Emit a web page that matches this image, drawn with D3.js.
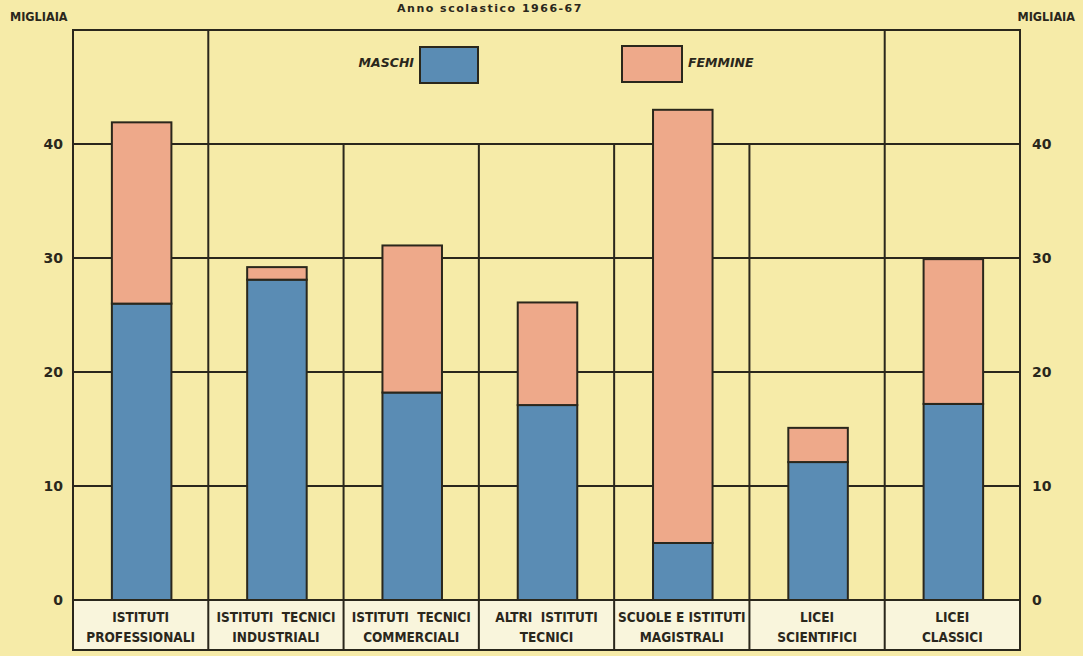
<!DOCTYPE html>
<html>
<head>
<meta charset="utf-8">
<script src="https://cdn.jsdelivr.net/npm/d3@7"></script>
<style>
  html, body { margin: 0; padding: 0; background: #f6eba8; }
  svg { display: block; }
</style>
</head>
<body>
<svg id="chart" width="1083" height="656"></svg>
<script>
// ---- data ----
const categories = [
  "ISTITUTI PROFESSIONALI",
  "ISTITUTI TECNICI INDUSTRIALI",
  "ISTITUTI TECNICI COMMERCIALI",
  "ALTRI ISTITUTI TECNICI",
  "SCUOLE E ISTITUTI MAGISTRALI",
  "LICEI SCIENTIFICI",
  "LICEI CLASSICI"
];
const labelLines = [
  ["ISTITUTI", "PROFESSIONALI"],
  ["ISTITUTI  TECNICI", "INDUSTRIALI"],
  ["ISTITUTI  TECNICI", "COMMERCIALI"],
  ["ALTRI  ISTITUTI", "TECNICI"],
  ["SCUOLE E ISTITUTI", "MAGISTRALI"],
  ["LICEI", "SCIENTIFICI"],
  ["LICEI", "CLASSICI"]
];
const maschi  = [26.0, 28.1, 18.2, 17.1, 5.0, 12.1, 17.2];
const femmine = [15.9, 1.1, 12.9, 9.0, 38.0, 3.0, 12.7];
const yTicks = [0, 10, 20, 30, 40];
const seriesNames = ["MASCHI", "FEMMINE"];
const titleText = "Anno  scolastico  1966-67";
const unitLabel = "MIGLIAIA";

(function () {
// ---- style ----
const C = {
  bg: "#f6eba8",
  ink: "#2a271c",
  blue: "#5a8cb4",
  pink: "#eea98a",
  box: "#f9f5dc"
};

const svg = d3.select("#chart");
const W = 1083, H = 656;
const pL = 73, pR = 1020, pT = 30, zeroY = 600, pB = 650;

svg.append("rect").attr("width", W).attr("height", H).attr("fill", C.bg);

const x = d3.scaleBand().domain(categories).range([pL, pR]).paddingInner(0).paddingOuter(0);
const y = d3.scaleLinear().domain([0, 50]).range([zeroY, pT]);

const data = categories.map((c, i) => ({ cat: c, maschi: maschi[i], femmine: femmine[i] }));
const stack = d3.stack().keys(["maschi", "femmine"])(data);
const colors = { maschi: C.blue, femmine: C.pink };

// title
svg.append("text")
  .attr("x", 490).attr("y", 12)
  .attr("text-anchor", "middle")
  .attr("font-family", "DejaVu Sans, sans-serif")
  .attr("font-weight", "bold")
  .attr("font-size", 11)
  .attr("letter-spacing", 1.5)
  .attr("fill", C.ink)
  .text(titleText);

// unit labels
[[10, "start"], [1075, "end"]].forEach(([tx, anchor]) => {
  svg.append("text")
    .attr("x", tx).attr("y", 21)
    .attr("text-anchor", anchor)
    .attr("font-family", "Liberation Sans Narrow, DejaVu Sans Condensed, sans-serif")
    .attr("font-weight", "bold")
    .attr("font-size", 12.5)
    .attr("fill", C.ink)
    .text(unitLabel);
});

// label box
svg.append("rect")
  .attr("x", pL).attr("y", zeroY)
  .attr("width", pR - pL).attr("height", pB - zeroY)
  .attr("fill", C.box);

const grid = svg.append("g").attr("stroke", C.ink).attr("stroke-width", 2).attr("fill", "none");

// horizontal grid lines
[10, 20, 30, 40].forEach(v => {
  grid.append("line").attr("x1", pL).attr("x2", pR).attr("y1", y(v)).attr("y2", y(v));
});
// frame
grid.append("rect").attr("x", pL).attr("y", pT).attr("width", pR - pL).attr("height", pB - pT);
grid.append("line").attr("x1", pL).attr("x2", pR).attr("y1", zeroY).attr("y2", zeroY);

// column separators
categories.slice(1).forEach((c, i) => {
  const xx = x(c);
  const full = (i === 0 || i === categories.length - 2);
  grid.append("line").attr("x1", xx).attr("x2", xx)
    .attr("y1", full ? pT : y(40)).attr("y2", pB);
});

// bars
const bw = x.bandwidth() * 0.44;
const bars = svg.append("g");
stack.forEach(layer => {
  bars.selectAll(null)
    .data(layer)
    .enter().append("rect")
    .attr("x", d => x(d.data.cat) + (x.bandwidth() - bw) / 2 + 1)
    .attr("y", d => y(d[1]))
    .attr("width", bw)
    .attr("height", d => y(d[0]) - y(d[1]))
    .attr("fill", colors[layer.key])
    .attr("stroke", C.ink)
    .attr("stroke-width", 2);
});

// y axes (left and right)
const axisFont = g => {
  g.select(".domain").remove();
  g.selectAll("text")
    .attr("font-family", "DejaVu Sans, sans-serif")
    .attr("font-weight", "bold")
    .attr("font-size", 14)
    .attr("fill", C.ink);
};
svg.append("g").attr("transform", `translate(${pL - 10},0)`)
  .call(d3.axisLeft(y).tickValues(yTicks).tickSize(0).tickPadding(0).tickFormat(d3.format("d")))
  .call(axisFont);
svg.append("g").attr("transform", `translate(${pR + 12},0)`)
  .call(d3.axisRight(y).tickValues(yTicks).tickSize(0).tickPadding(0).tickFormat(d3.format("d")))
  .call(axisFont);

// category labels
const lab = svg.append("g")
  .attr("font-family", "Liberation Sans Narrow, DejaVu Sans Condensed, sans-serif")
  .attr("font-weight", "bold")
  .attr("font-size", 13.5)
  .attr("fill", C.ink)
  .attr("text-anchor", "middle");
categories.forEach((c, i) => {
  labelLines[i].forEach((ln, j) => {
    lab.append("text")
      .attr("x", x(c) + x.bandwidth() / 2)
      .attr("y", 622 + j * 20)
      .style("white-space", "pre")
      .text(ln);
  });
});

// legend
const lg = svg.append("g");
lg.append("rect").attr("x", 420).attr("y", 47).attr("width", 58).attr("height", 36)
  .attr("fill", C.blue).attr("stroke", C.ink).attr("stroke-width", 2);
lg.append("rect").attr("x", 622).attr("y", 46).attr("width", 60).attr("height", 36)
  .attr("fill", C.pink).attr("stroke", C.ink).attr("stroke-width", 2);
lg.append("text").attr("x", 414).attr("y", 67).attr("text-anchor", "end")
  .attr("font-family", "DejaVu Sans, sans-serif").attr("font-weight", "bold")
  .attr("font-style", "italic").attr("font-size", 12.5).attr("fill", C.ink)
  .text(seriesNames[0]);
lg.append("text").attr("x", 688).attr("y", 67).attr("text-anchor", "start")
  .attr("font-family", "DejaVu Sans, sans-serif").attr("font-weight", "bold")
  .attr("font-style", "italic").attr("font-size", 12.5).attr("fill", C.ink)
  .text(seriesNames[1]);
})();
</script>
</body>
</html>
